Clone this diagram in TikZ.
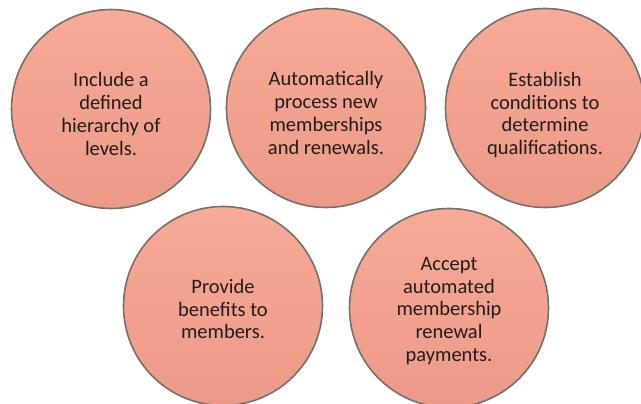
\documentclass[tikz,border=0pt]{standalone}
\usepackage{fontspec}
\setmainfont{Carlito}
\definecolor{ctop}{RGB}{247,170,150}
\definecolor{cbot}{RGB}{236,154,136}
\definecolor{cedge}{RGB}{115,112,110}
\definecolor{ctext}{RGB}{35,28,28}
\begin{document}
\begin{tikzpicture}[x=1pt,y=1pt,
  bubble/.style={circle, minimum size=199pt, inner sep=0pt, draw=cedge, line width=1.6pt,
    top color=ctop, bottom color=cbot},
  btext/.style={align=center, text=ctext, inner sep=0pt,
    font=\fontsize{20.5}{22.8}\selectfont}]
\useasboundingbox (0,0) rectangle (641,404);
\fill[white] (0,0) rectangle (641,404);
\node[bubble] (a) at (111,295) {};
\node[bubble] (b) at (326,296) {};
\node[bubble] (c) at (545,296) {};
\node[bubble] (d) at (223,98) {};
\node[bubble] (e) at (449,96) {};
\node[btext] (ta) at ([yshift=-5pt]a.center) {Include a\\defined\\hierarchy of\\levels.};
\node[btext] (tb) at ([yshift=-5pt]b.center) {Automatically\\process new\\memberships\\and renewals.};
\node[btext] (tc) at ([yshift=-7pt]c.center) {Establish\\conditions to\\determine\\qualifications.};
\node[btext] (td) at ([yshift=-3pt]d.center) {Provide\\benefits to\\members.};
\node[btext] (te) at ([yshift=-3pt]e.center) {Accept\\automated\\membership\\renewal\\payments.};
\end{tikzpicture}
\end{document}
